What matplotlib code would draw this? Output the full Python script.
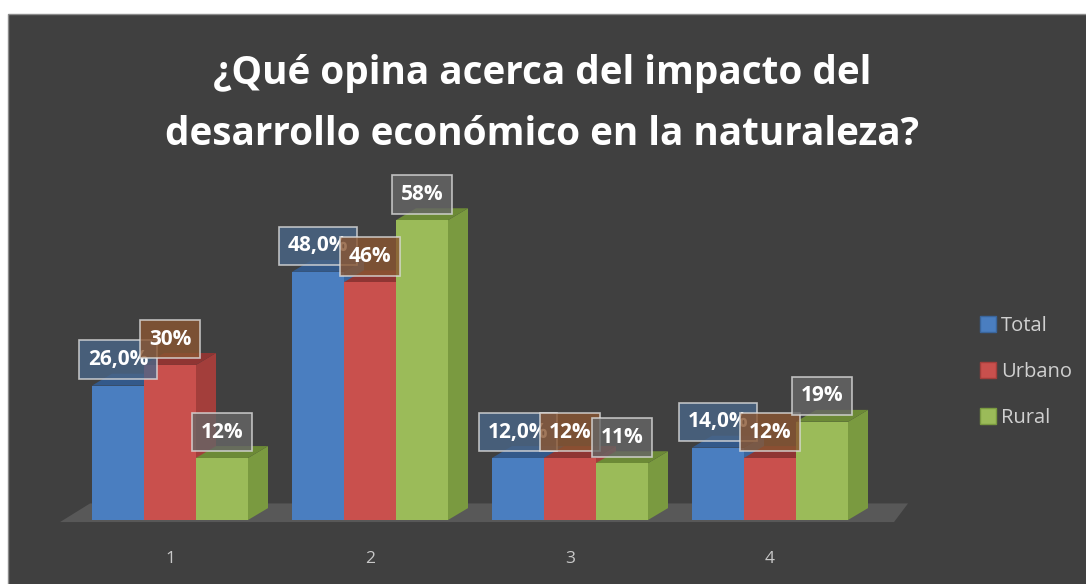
import matplotlib

matplotlib.use("Agg")

import matplotlib.pyplot as plt
from matplotlib.patches import Patch, Polygon, Rectangle

plt.rcParams["font.family"] = ["Open Sans", "DejaVu Sans"]

TITLE = "¿Qué opina acerca del impacto del\ndesarrollo económico en la naturaleza?"
CATEGORIES = ["1", "2", "3", "4"]
SERIES = ["Total", "Urbano", "Rural"]
TOTAL = [26.0, 48.0, 12.0, 14.0]
URBANO = [30, 46, 12, 12]
RURAL = [12, 58, 11, 19]
TOTAL_LABELS = ["26,0%", "48,0%", "12,0%", "14,0%"]
URBANO_LABELS = ["30%", "46%", "12%", "12%"]
RURAL_LABELS = ["12%", "58%", "11%", "19%"]

BG = "#404040"
FRONT = ["#4a7ec0", "#c9504d", "#9bbb59"]
SIDE = ["#3a659c", "#a33e3b", "#7a9a40"]
TOP = ["#33598a", "#8f3533", "#6c8a36"]
LABEL_FILL = ["#4a6688", "#8a5632", "#666666"]

W, H = 1086, 584
BAR_W = 0.26
DX, DY = 0.1, 2.3


def draw_bar(ax, x, h, i):
    left, right = x - BAR_W / 2, x + BAR_W / 2
    ax.add_patch(Polygon([(right, 0), (right + DX, DY), (right + DX, h + DY), (right, h)],
                         closed=True, facecolor=SIDE[i], edgecolor="none", zorder=3))
    ax.add_patch(Polygon([(left, h), (right, h), (right + DX, h + DY), (left + DX, h + DY)],
                         closed=True, facecolor=TOP[i], edgecolor="none", zorder=3))
    ax.bar(x, h, BAR_W, color=FRONT[i], edgecolor="none", zorder=3)


def main() -> None:
    fig = plt.figure(figsize=(W / 100, H / 100), dpi=100, facecolor="white")
    fig.patches.append(Rectangle((8 / W, -0.01), 1.0, (H - 14) / H + 0.01, transform=fig.transFigure,
                                 facecolor=BG, edgecolor="#8c8c8c", linewidth=1.0, zorder=-10))

    ax = fig.add_axes([30 / W, (H - 545.85) / H, 920 / W, 387.75 / H])
    ax.set_facecolor("none")
    ax.set_xlim(0.3, 4.9)
    ax.set_ylim(-5, 70)
    for s in ax.spines.values():
        s.set_visible(False)
    ax.set_yticks([])
    positions = list(range(1, len(CATEGORIES) + 1))
    ax.set_xticks(positions, CATEGORIES)
    ax.tick_params(axis="x", length=0, pad=4, labelsize=12.5, labelcolor="#c8c8c8")

    # floor under the bars
    ax.add_patch(Polygon([(0.45, -0.4), (4.62, -0.4), (4.69, 3.2), (0.6, 3.2)], closed=True,
                         facecolor="#585858", edgecolor="none", zorder=1))

    values = [TOTAL, URBANO, RURAL]
    labels = [TOTAL_LABELS, URBANO_LABELS, RURAL_LABELS]
    offsets = [-BAR_W, 0, BAR_W]
    for g, pos in enumerate(positions):
        for i in range(3):
            draw_bar(ax, pos + offsets[i], values[i][g], i)
    for g, pos in enumerate(positions):
        for i in range(3):
            ax.text(pos + offsets[i], values[i][g] + 5.0, labels[i][g], ha="center", va="center",
                    fontsize=15, fontweight="bold", color="white", zorder=6,
                    bbox=dict(boxstyle="square,pad=0.42", facecolor=LABEL_FILL[i], alpha=0.8,
                              edgecolor="#dddddd", linewidth=1.2))

    fig.text(0.499, (H - 54) / H, TITLE, ha="center", va="top", fontsize=27.8, fontweight="bold",
             color="white", linespacing=1.72)

    handles = [Patch(facecolor=FRONT[i], edgecolor=SIDE[i], label=SERIES[i]) for i in range(3)]
    fig.legend(handles=handles, loc="center left", bbox_to_anchor=(962 / W, (H - 372) / H),
               frameon=False, fontsize=14.5, labelcolor="#d0d0d0", handlelength=0.8,
               handleheight=0.8, handletextpad=0.25, labelspacing=1.3)

    fig.savefig("out.png", dpi=100, facecolor="white")
    plt.close(fig)


if __name__ == "__main__":
    main()
